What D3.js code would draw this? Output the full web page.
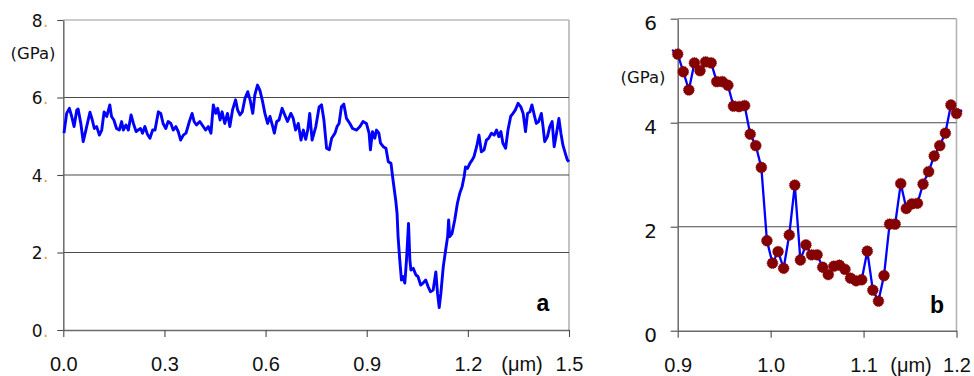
<!DOCTYPE html>
<html>
<head>
<meta charset="utf-8">
<script src="https://cdn.jsdelivr.net/npm/d3@7"></script>
<style>
  html, body { margin: 0; padding: 0; background: #fff; }
  svg { display: block; }
</style>
</head>
<body>
<svg id="chart" width="974" height="376"></svg>
<script>
// Panel a: modulus profile across the full scan (position in µm, modulus in GPa)
const aPos = [
  0.002,0.010,0.018,0.025,0.032,0.040,0.044,0.052,0.059,0.067,0.079,0.086,0.092,0.099,0.107,0.114,
  0.121,0.129,0.138,0.143,0.150,0.158,0.166,0.173,0.178,0.186,0.193,0.201,0.208,0.216,0.222,0.229,
  0.235,0.242,0.249,0.257,0.265,0.272,0.282,0.289,0.296,0.304,0.311,0.319,0.326,0.334,0.341,0.348,
  0.356,0.364,0.374,0.382,0.388,0.395,0.405,0.415,0.422,0.430,0.438,0.445,0.452,0.458,0.465,0.471,
  0.479,0.487,0.494,0.502,0.511,0.517,0.524,0.531,0.539,0.547,0.554,0.562,0.568,0.576,0.583,0.590,
  0.598,0.606,0.613,0.620,0.626,0.633,0.640,0.649,0.657,0.665,0.675,0.682,0.689,0.697,0.705,0.712,
  0.719,0.725,0.731,0.738,0.749,0.759,0.766,0.773,0.781,0.789,0.796,0.806,0.812,0.818,0.825,0.832,
  0.840,0.850,0.858,0.870,0.880,0.889,0.899,0.907,0.911,0.917,0.924,0.929,0.936,0.941,0.949,0.957,
  0.964,0.972,0.978,0.986,0.990,0.993,0.998,1.003,1.008,1.013,1.018,1.024,1.028,1.031,1.038,1.046,
  1.052,1.060,1.067,1.075,1.082,1.089,1.097,1.105,1.110,1.115,1.120,1.127,1.134,1.140,1.143,1.146,
  1.153,1.161,1.169,1.176,1.183,1.189,1.193,1.199,1.206,1.213,1.218,1.226,1.233,1.240,1.248,1.255,
  1.262,1.270,1.278,1.285,1.292,1.298,1.304,1.312,1.319,1.327,1.334,1.341,1.349,1.357,1.364,1.371,
  1.377,1.384,1.390,1.398,1.403,1.410,1.418,1.423,1.428,1.436,1.443,1.450,1.456,1.463,1.470,1.476,
  1.482,1.489,1.495,1.500
];
const aVal = [
  5.08,5.59,5.72,5.51,5.25,5.68,5.70,5.33,4.86,5.16,5.62,5.42,5.20,5.25,5.03,5.16,
  5.63,5.51,5.81,5.51,5.42,5.20,5.16,5.38,5.16,5.29,5.16,5.55,5.33,5.12,5.16,5.20,
  5.08,5.25,5.06,4.95,5.16,5.16,5.63,5.59,5.33,5.20,5.38,5.33,5.16,5.25,5.12,4.90,
  5.03,5.08,5.38,5.59,5.38,5.29,5.38,5.25,5.16,5.25,5.08,5.81,5.59,5.72,5.42,5.63,
  5.33,5.59,5.25,5.68,5.94,5.68,5.55,5.63,5.98,6.15,5.94,5.59,6.06,6.32,6.19,5.94,
  5.59,5.33,5.51,5.29,5.08,5.38,5.42,5.72,5.55,5.38,5.59,5.46,5.16,5.33,4.90,5.16,
  4.92,5.16,5.59,4.90,5.25,5.76,5.81,5.42,4.69,4.65,4.95,5.08,5.25,5.33,5.76,5.83,
  5.46,5.33,5.20,5.16,5.25,5.38,5.33,5.08,4.65,5.12,4.95,5.16,5.08,4.82,4.73,4.69,
  4.34,4.30,3.87,3.35,3.01,2.41,1.81,1.29,1.38,1.21,1.81,2.75,1.81,1.55,1.59,1.42,
  1.38,1.16,1.21,1.29,1.12,0.99,1.03,1.50,0.95,0.58,0.95,1.63,2.06,2.41,2.84,2.41,
  2.49,2.84,3.27,3.53,3.70,3.96,4.21,4.17,4.30,4.39,4.47,4.73,5.03,4.60,4.65,4.90,
  4.95,5.08,5.03,5.16,4.99,5.12,4.82,4.69,5.16,5.51,5.59,5.68,5.85,5.76,5.59,5.12,
  5.59,5.63,5.81,5.51,5.33,5.38,5.59,5.25,4.86,4.99,5.25,5.38,4.73,5.08,5.46,5.08,
  4.77,4.56,4.39,4.34
];

// Panel b: indentation points across the trough (µm, GPa)
const bPos = [
  0.894,0.900,0.906,0.912,0.918,0.924,0.930,0.936,0.942,0.948,0.954,0.960,0.966,0.972,0.978,0.984,
  0.990,0.996,1.002,1.008,1.014,1.020,1.026,1.032,1.038,1.044,1.050,1.056,1.062,1.068,1.074,1.080,
  1.086,1.092,1.098,1.104,1.110,1.116,1.122,1.128,1.134,1.140,1.146,1.152,1.158,1.164,1.170,1.176,
  1.182,1.188,1.194,1.200,1.206
];
const bVal = [
  5.40,5.32,4.98,4.63,5.15,5.00,5.17,5.15,4.79,4.79,4.72,4.32,4.31,4.33,3.78,3.56,
  3.14,1.73,1.30,1.52,1.20,1.84,2.80,1.36,1.65,1.46,1.46,1.22,1.08,1.24,1.26,1.18,
  1.01,0.96,0.98,1.53,0.78,0.57,1.06,2.05,2.05,2.83,2.35,2.44,2.45,2.82,3.06,3.36,
  3.56,3.80,4.34,4.18,4.24
];

// Axis ticks and labels
const aXTicks = [0, 0.3, 0.6, 0.9, 1.2, 1.5];
const aXLabels = ["0.0", "0.3", "0.6", "0.9", "1.2", "1.5"];
const aYTicks = [0, 2, 4, 6, 8];
const bXTicks = [0.9, 1.0, 1.1, 1.2];
const bXLabels = ["0.9", "1.0", "1.1", "1.2"];
const bYTicks = [0, 2, 4, 6];
const unitX = "(\u03bcm)";
const unitY = "(GPa)";

const svg = d3.select("#chart");
const LINE = "#0000ff";
const MARK = "#850000";

function panel(cfg) {
  const g = svg.append("g");
  const x = d3.scaleLinear().domain(cfg.xDomain).range(cfg.xRange);
  const y = d3.scaleLinear().domain(cfg.yDomain).range(cfg.yRange);
  const [x0, x1] = cfg.xRange;
  const [y0, y1] = cfg.yRange;

  // frame: top and right edges
  g.append("line").attr("x1", x0).attr("x2", x1).attr("y1", y1).attr("y2", y1)
    .attr("stroke", "#9a9a9a").attr("stroke-width", 1.2);
  g.append("line").attr("x1", x1).attr("x2", x1).attr("y1", y1).attr("y2", y0)
    .attr("stroke", "#b4b4b4").attr("stroke-width", 1.6);

  // horizontal gridlines
  g.selectAll("line.grid").data(cfg.yTicks.filter(t => t > cfg.yDomain[0] && t < cfg.yDomain[1]))
    .join("line").attr("class", "grid")
    .attr("x1", x0).attr("x2", x1)
    .attr("y1", d => y(d)).attr("y2", d => y(d))
    .attr("stroke", "#4a4a4a").attr("stroke-width", 1.1);

  // left axis with ticks
  const yAxis = d3.axisLeft(y).tickValues(cfg.yTicks).tickSize(cfg.yTickLen).tickSizeOuter(0).tickFormat("");
  const ya = g.append("g").attr("transform", `translate(${x0},0)`).call(yAxis);
  ya.select(".domain").attr("stroke", "#6a6a6a").attr("stroke-width", 1.5);
  ya.selectAll(".tick line").attr("stroke", "#4a4a4a").attr("stroke-width", 1.1);

  // bottom axis with ticks
  const xAxis = d3.axisBottom(x).tickValues(cfg.xTicks).tickSize(7).tickSizeOuter(0)
    .tickFormat((d, i) => cfg.xLabels[i]).tickPadding(18);
  const xa = g.append("g").attr("transform", `translate(0,${y0})`).call(xAxis);
  xa.select(".domain").attr("stroke", "#6a6a6a").attr("stroke-width", 1.4);
  xa.selectAll(".tick line").attr("stroke", "#4a4a4a").attr("stroke-width", 1.1);
  xa.selectAll(".tick text")
    .attr("font-family", "'Liberation Sans', Arial, sans-serif")
    .attr("font-size", 20).attr("fill", "#111").attr("dy", null).attr("y", 0)
    .attr("transform", `translate(0,${cfg.xLabelBase - y0})`);

  // y tick labels
  cfg.yTicks.forEach(t => {
    g.append("text")
      .attr("x", cfg.yLabelX).attr("y", y(t) + cfg.yLabelDy)
      .attr("text-anchor", "end")
      .attr("font-family", "'DejaVu Sans', Verdana, sans-serif")
      .attr("font-size", cfg.yLabelSize).attr("fill", "#111")
      .text(String(t));
    if (cfg.dotted) {
      g.append("text")
        .attr("x", cfg.yLabelX + 0.5).attr("y", y(t) + cfg.yLabelDy)
        .attr("font-family", "'DejaVu Sans', Verdana, sans-serif")
        .attr("font-size", cfg.yLabelSize).attr("fill", "#f0a040")
        .text(".");
    }
  });

  // unit labels
  g.append("text").attr("x", cfg.unitY[0]).attr("y", cfg.unitY[1])
    .attr("text-anchor", "middle")
    .attr("font-family", "'DejaVu Sans', Verdana, sans-serif")
    .attr("font-size", 16.5).attr("fill", "#111").text(unitY);
  g.append("text").attr("x", cfg.unitX[0]).attr("y", cfg.unitX[1])
    .attr("text-anchor", "middle")
    .attr("font-family", "'Liberation Sans', Arial, sans-serif")
    .attr("font-size", 20).attr("fill", "#111").text(unitX);

  // panel letter
  g.append("text").attr("x", cfg.letterPos[0]).attr("y", cfg.letterPos[1])
    .attr("text-anchor", "middle")
    .attr("font-family", "'Liberation Sans', Arial, sans-serif")
    .attr("font-weight", "bold").attr("font-size", 23).attr("fill", "#000")
    .text(cfg.letter);

  // data line
  const pts = cfg.pos.map((p, i) => [p, cfg.val[i]]);
  const line = d3.line().x(d => x(d[0])).y(d => y(d[1]));
  g.append("path").datum(pts)
    .attr("fill", "none").attr("stroke", LINE)
    .attr("stroke-width", cfg.lineWidth).attr("stroke-linejoin", "round")
    .attr("d", line);

  if (cfg.markers) {
    const [d0, d1] = cfg.xDomain;
    g.selectAll("circle.pt")
      .data(pts.filter(d => d[0] >= d0 - 1e-9 && d[0] <= d1 + 1e-9))
      .join("circle").attr("class", "pt")
      .attr("cx", d => x(d[0])).attr("cy", d => y(d[1]))
      .attr("r", 5.4).attr("fill", MARK)
      .attr("stroke", MARK).attr("stroke-width", 0.8)
      .attr("stroke-dasharray", "1.2 1");
  }
}

panel({
  pos: aPos, val: aVal,
  xDomain: [0, 1.5], xRange: [63.3, 569],
  yDomain: [0, 8], yRange: [330, 20],
  xTicks: aXTicks, xLabels: aXLabels, yTicks: aYTicks,
  yTickLen: 6, yLabelX: 42.5, yLabelDy: 6.5, yLabelSize: 17, dotted: true,
  xLabelBase: 371,
  unitY: [33, 59], unitX: [522, 371],
  letter: "a", letterPos: [543, 311],
  lineWidth: 2.9, markers: false
});

panel({
  pos: bPos, val: bVal,
  xDomain: [0.9, 1.2], xRange: [677.7, 956.5],
  yDomain: [0, 6], yRange: [330.7, 18.7],
  xTicks: bXTicks, xLabels: bXLabels, yTicks: bYTicks,
  yTickLen: 7, yLabelX: 657, yLabelDy: 11.5, yLabelSize: 20, dotted: false,
  xLabelBase: 372,
  unitY: [643, 83], unitX: [911, 372],
  letter: "b", letterPos: [937, 313],
  lineWidth: 2.3, markers: true
});
</script>
</body>
</html>
